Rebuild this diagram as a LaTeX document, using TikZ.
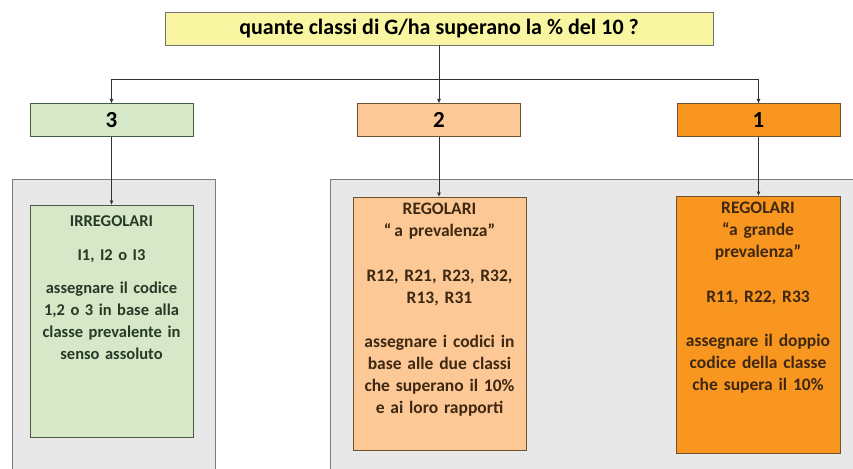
\documentclass[tikz,border=0pt]{standalone}
\usepackage{fontspec}
\setmainfont{Carlito}
\usetikzlibrary{positioning,arrows.meta}

\definecolor{TopYellow}{RGB}{248,246,160}
\definecolor{PaleGreen}{RGB}{214,232,200}
\definecolor{PaleOrange}{RGB}{252,200,150}
\definecolor{DeepOrange}{RGB}{248,150,32}
\definecolor{PanelGray}{RGB}{232,232,232}
\definecolor{PanelLine}{RGB}{125,125,125}
\definecolor{GreenLine}{RGB}{70,92,70}
\definecolor{BrownLine}{RGB}{110,80,50}
\definecolor{GreenText}{RGB}{38,58,38}
\definecolor{BrownText}{RGB}{62,40,18}

\begin{document}
\begin{tikzpicture}[x=1pt, y=-1pt, node distance = 0pt,
BoxStyle/.style={draw, outer sep=0pt, inner sep=0pt, line width=0.9pt},
CountStyle/.style={BoxStyle, minimum width=163pt, minimum height=33pt,
                font=\bfseries\fontsize{23}{26}\selectfont},
TextStyle/.style={inner sep=0pt, align=center, text width=170pt,
                font=\bfseries\fontsize{17.5}{21.8}\selectfont},
LinkStyle/.style={-{Latex[length=4.5pt,width=4pt]}, line width=0.8pt, draw=black!80},]
\useasboundingbox (0,0) rectangle (853,468);

% grey panels (open at the bottom)
\fill[PanelGray] (12,470) -- (12,179) -- (215,179) -- (215,470);
\draw[PanelLine, line width=1pt] (12,470) -- (12,179) -- (215,179) -- (215,470);
\fill[PanelGray] (330,470) -- (330,179) -- (855,179) -- (855,470);
\draw[PanelLine, line width=1pt] (330,470) -- (330,179) -- (855,179);

% question
\node [BoxStyle, fill=TopYellow, draw=black!55, minimum width=548pt, minimum height=33pt,
      font=\bfseries\fontsize{22}{24}\selectfont] (q) at (439,28.5)
      {quante classi di G/ha superano la \% del 10 ?};

% number of classes
\node [CountStyle, fill=PaleGreen, draw=GreenLine] (n3) at (111.5,120) {3};
\node [CountStyle, fill=PaleOrange, draw=BrownLine] (n2) at (439,120) {2};
\node [CountStyle, fill=DeepOrange, draw=BrownLine] (n1) at (758.5,120) {1};

\coordinate (split) at (439,79);
\draw [line width=0.8pt, draw=black!80] (q.south) -- (split);
\draw [LinkStyle] (split) -| (n3.north);
\draw [LinkStyle] (split) -- (n2.north);
\draw [LinkStyle] (split) -| (n1.north);

% result boxes
\node [BoxStyle, fill=PaleGreen, draw=GreenLine, minimum width=163pt,
      minimum height=232pt] (irr) at (111.5,321) {};
\node [BoxStyle, fill=PaleOrange, draw=BrownLine, minimum width=173pt,
      minimum height=253pt] (prev) at (439.5,323.5) {};
\node [BoxStyle, fill=DeepOrange, draw=BrownLine, minimum width=164pt,
      minimum height=257pt] (gprev) at (758,324.5) {};

\draw [LinkStyle] (n3.south) -- (irr.north);
\draw [LinkStyle] (n2.south) -- (n2.south |- prev.north);
\draw [LinkStyle] (n1.south) -- (n1.south |- gprev.north);

\node [TextStyle, text=GreenText, text width=161pt, below=10pt of irr.north,
      font=\bfseries\fontsize{16.5}{21.8}\selectfont] (irrtxt)
      {IRREGOLARI\\[13pt] I1, I2 o I3\\[11pt]
       assegnare il codice\\ 1,2 o 3 in base alla\\ classe prevalente in\\ senso assoluto};
\node [TextStyle, text=BrownText, below=6pt of prev.north] (prevtxt)
      {REGOLARI\\ ``\,a prevalenza''\\[23pt] R12, R21, R23, R32,\\ R13, R31\\[23pt]
       assegnare i codici in\\ base alle due classi\\ che superano il 10\%\\ e ai loro rapporti};
\node [TextStyle, text=BrownText, text width=162pt, below=6pt of gprev.north] (gprevtxt)
      {REGOLARI\\ ``a grande\\ prevalenza''\\[23pt] R11, R22, R33\\[23pt]
       assegnare il doppio\\ codice della classe\\ che supera il 10\%};
\end{tikzpicture}
\end{document}
